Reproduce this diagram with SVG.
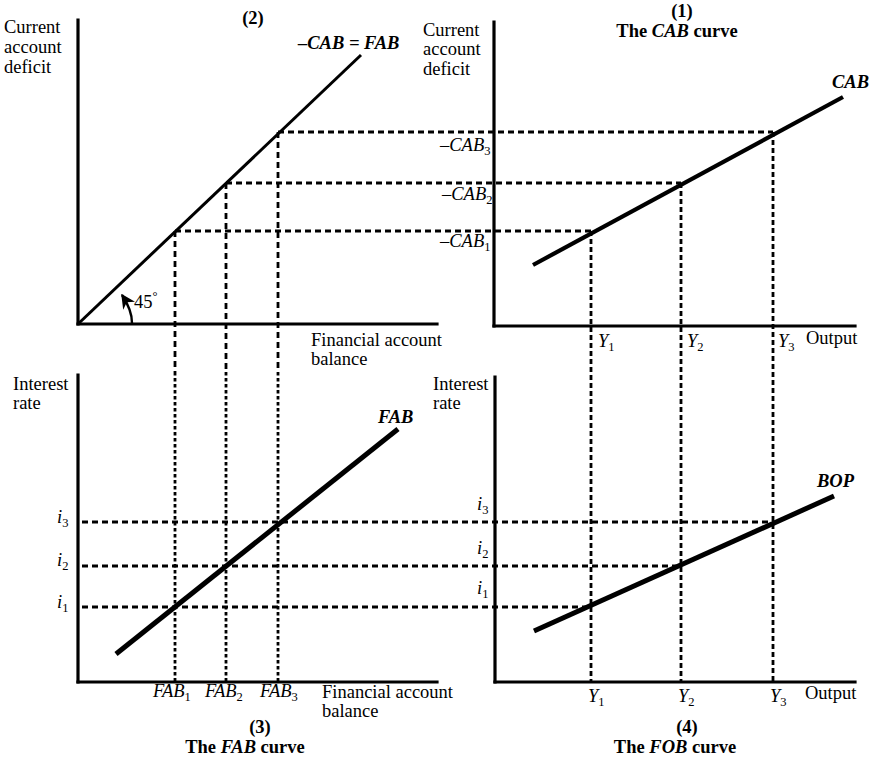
<svg xmlns="http://www.w3.org/2000/svg" width="872" height="760" viewBox="0 0 872 760">
<style>
text{font-family:"Liberation Serif","Times New Roman",serif;font-size:18.5px;fill:#000}
.b{font-weight:bold}
.i{font-style:italic}
.m{text-anchor:middle}
.ax{stroke:#000;stroke-width:3.2;fill:none;stroke-linecap:square}
.c1{stroke:#000;stroke-width:3;fill:none}
.c2{stroke:#000;stroke-width:4.2;fill:none}
.c3{stroke:#000;stroke-width:5;fill:none}
.dh{stroke:#000;stroke-width:2.8;stroke-dasharray:6 4;fill:none}
.dv{stroke:#000;stroke-width:2.8;stroke-dasharray:5 3;fill:none}
.dt{stroke:#000;stroke-width:2.8;stroke-dasharray:3.5 2.5;fill:none}
.sub{font-size:12.5px;font-style:normal}
</style>
<defs>
<marker id="ah" viewBox="0 0 10 10" refX="9" refY="5" markerWidth="6" markerHeight="6" orient="auto" markerUnits="strokeWidth">
<path d="M0,0 L10,5 L0,10 L3,5 Z" fill="#000"/>
</marker>
</defs>

<g id="connectors">
<line class="dh" x1="278" y1="132" x2="773" y2="132"/>
<line class="dh" x1="226" y1="183" x2="681" y2="183"/>
<line class="dh" x1="175" y1="231" x2="591" y2="231"/>
<line class="dh" x1="278" y1="132" x2="278" y2="372"/>
<line class="dh" x1="226" y1="183" x2="226" y2="372"/>
<line class="dh" x1="175" y1="231" x2="175" y2="372"/>
<line class="dt" x1="278" y1="372" x2="278" y2="682"/>
<line class="dt" x1="226" y1="372" x2="226" y2="682"/>
<line class="dt" x1="175" y1="372" x2="175" y2="682"/>
<line class="dv" x1="591" y1="231" x2="591" y2="682"/>
<line class="dv" x1="681" y1="183" x2="681" y2="682"/>
<line class="dv" x1="773" y1="132" x2="773" y2="682"/>
<line class="dh" x1="82" y1="522" x2="773" y2="522"/>
<line class="dh" x1="82" y1="566" x2="681" y2="566"/>
<line class="dh" x1="82" y1="607" x2="591" y2="607"/>
</g>

<g id="panel2">
<line class="ax" x1="78" y1="20" x2="78" y2="324"/>
<line class="ax" x1="78" y1="324" x2="437" y2="324"/>
<line class="c1" x1="78" y1="324" x2="361" y2="55"/>
<path d="M132,323 C132,312 128,304 122,295" stroke="#000" stroke-width="2.4" fill="none" marker-end="url(#ah)"/>
<text x="134" y="308">45<tspan class="sub" dy="-8">°</tspan></text>
<text class="b m" x="253" y="24">(2)</text>
<text class="b i" x="298" y="49">–CAB = FAB</text>
<text x="4" y="33">Current</text>
<text x="4" y="53">account</text>
<text x="4" y="73">deficit</text>
<text x="311" y="346">Financial account</text>
<text x="311" y="365">balance</text>
</g>

<g id="panel1">
<line class="ax" x1="494" y1="22" x2="494" y2="326"/>
<line class="ax" x1="494" y1="326" x2="855" y2="326"/>
<line class="c2" x1="533" y1="265" x2="843" y2="97"/>
<text class="b m" x="682" y="17">(1)</text>
<text class="b m" x="677" y="37">The <tspan class="i">CAB</tspan> curve</text>
<text class="b i" x="832" y="88">CAB</text>
<text x="423" y="36">Current</text>
<text x="423" y="55">account</text>
<text x="423" y="75">deficit</text>
<text class="i" x="440" y="151">–CAB<tspan class="sub" dy="4">3</tspan></text>
<text class="i" x="442" y="200">–CAB<tspan class="sub" dy="4">2</tspan></text>
<text class="i" x="440" y="247">–CAB<tspan class="sub" dy="4">1</tspan></text>
<text class="i" x="598" y="347">Y<tspan class="sub" dy="4">1</tspan></text>
<text class="i" x="687" y="347">Y<tspan class="sub" dy="4">2</tspan></text>
<text class="i" x="778" y="347">Y<tspan class="sub" dy="4">3</tspan></text>
<text x="806" y="344">Output</text>
</g>

<g id="panel3">
<line class="ax" x1="78" y1="375" x2="78" y2="682"/>
<line class="ax" x1="78" y1="682" x2="437" y2="682"/>
<line class="c3" x1="116" y1="654" x2="398" y2="429"/>
<text x="13" y="390">Interest</text>
<text x="13" y="409">rate</text>
<text class="b i" x="378" y="423">FAB</text>
<text class="i" x="57" y="523">i<tspan class="sub" dy="4">3</tspan></text>
<text class="i" x="57" y="566">i<tspan class="sub" dy="4">2</tspan></text>
<text class="i" x="57" y="608">i<tspan class="sub" dy="4">1</tspan></text>
<text class="i" x="153" y="697">FAB<tspan class="sub" dy="4">1</tspan></text>
<text class="i" x="205" y="697">FAB<tspan class="sub" dy="4">2</tspan></text>
<text class="i" x="260" y="697">FAB<tspan class="sub" dy="4">3</tspan></text>
<text x="322" y="698">Financial account</text>
<text x="322" y="717">balance</text>
<text class="b m" x="260" y="733">(3)</text>
<text class="b m" x="245" y="753">The <tspan class="i">FAB</tspan> curve</text>
</g>

<g id="panel4">
<line class="ax" x1="495" y1="377" x2="495" y2="682"/>
<line class="ax" x1="495" y1="682" x2="855" y2="682"/>
<line class="c3" x1="534" y1="631" x2="834" y2="496"/>
<text x="433" y="390">Interest</text>
<text x="433" y="409">rate</text>
<text class="b i" x="817" y="487">BOP</text>
<text class="i" x="477" y="510">i<tspan class="sub" dy="4">3</tspan></text>
<text class="i" x="477" y="554">i<tspan class="sub" dy="4">2</tspan></text>
<text class="i" x="477" y="594">i<tspan class="sub" dy="4">1</tspan></text>
<text class="i" x="588" y="702">Y<tspan class="sub" dy="4">1</tspan></text>
<text class="i" x="678" y="702">Y<tspan class="sub" dy="4">2</tspan></text>
<text class="i" x="770" y="702">Y<tspan class="sub" dy="4">3</tspan></text>
<text x="805" y="699">Output</text>
<text class="b m" x="687" y="733">(4)</text>
<text class="b m" x="675" y="753">The <tspan class="i">FOB</tspan> curve</text>
</g>
</svg>
